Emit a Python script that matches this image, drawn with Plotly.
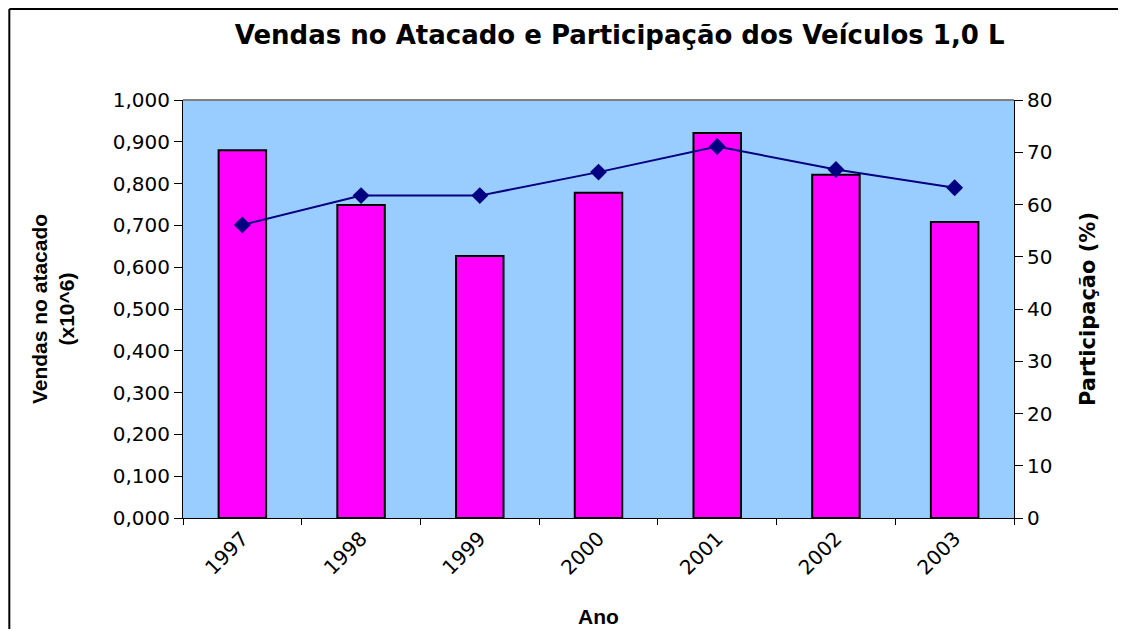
import plotly.graph_objects as go

anos = ["1997", "1998", "1999", "2000", "2001", "2002", "2003"]
vendas = [0.880, 0.749, 0.627, 0.778, 0.921, 0.821, 0.708]  # x10^6
participacao = [56.1, 61.7, 61.7, 66.2, 71.1, 66.7, 63.2]  # %

arial = "Arial, Liberation Sans, sans-serif"
wide = "DejaVu Sans, sans-serif"

fig = go.Figure()

fig.add_trace(
    go.Bar(
        x=anos,
        y=vendas,
        name="Vendas no atacado",
        marker=dict(color="#FF00FF", line=dict(color="black", width=2)),
        yaxis="y",
    )
)

fig.add_trace(
    go.Scatter(
        x=anos,
        y=participacao,
        name="Participação",
        mode="lines+markers",
        line=dict(color="#000080", width=2),
        marker=dict(symbol="diamond", size=13, color="#000080"),
        yaxis="y2",
    )
)

# page body adds 8px, so the figure is a bit smaller than the window
fig.update_layout(
    width=1110,
    height=621,
    margin=dict(l=175, r=104, t=92, b=111),
    paper_bgcolor="white",
    plot_bgcolor="#99CCFF",
    separators=",.",
    showlegend=False,
    bargap=0.6,
    font=dict(family=wide, size=20, color="black"),
    title=dict(
        text="<b>Vendas no Atacado e Participação dos Veículos 1,0 L</b>",
        x=0.551,
        xanchor="center",
        y=0.9565,
        yanchor="middle",
        font=dict(family=wide, size=26),
    ),
    xaxis=dict(
        type="category",
        automargin=False,
        tickangle=-45,
        ticks="outside",
        tickson="boundaries",
        ticklen=6,
        tickcolor="black",
        showline=True,
        linecolor="black",
        linewidth=1,
        showgrid=False,
        title=dict(text="<b>Ano</b>", font=dict(family=arial, size=21), standoff=30),
    ),
    yaxis=dict(
        range=[0, 1.0],
        automargin=False,
        dtick=0.1,
        tickformat=".3f",
        ticks="outside",
        ticklen=8,
        tickcolor="black",
        showline=True,
        linecolor="black",
        linewidth=1,
        showgrid=False,
        zeroline=False,
        title=dict(text="<b>Vendas no atacado<br>(x10^6)</b>",
                   font=dict(family=arial, size=21), standoff=32),
    ),
    yaxis2=dict(
        range=[0, 80],
        automargin=False,
        dtick=10,
        overlaying="y",
        side="right",
        ticks="outside",
        ticklen=8,
        tickcolor="black",
        showline=True,
        linecolor="black",
        linewidth=1,
        showgrid=False,
        zeroline=False,
        title=dict(text="<b>Participação (%)</b>", font=dict(family=wide, size=21), standoff=28),
    ),
)

# gray top edge of the plot area
fig.add_shape(type="line", xref="paper", yref="paper", x0=0, x1=1, y0=1, y1=1,
              line=dict(color="#808080", width=2))

# chart frame (only top and left edges show)
fig.add_shape(type="line", xref="paper", yref="paper", x0=-0.209, x1=1.2, y0=1.218, y1=1.218,
              line=dict(color="black", width=2))
fig.add_shape(type="line", xref="paper", yref="paper", x0=-0.209, x1=-0.209, y0=1.218, y1=-0.3,
              line=dict(color="black", width=2))

fig.write_html("out.html")
